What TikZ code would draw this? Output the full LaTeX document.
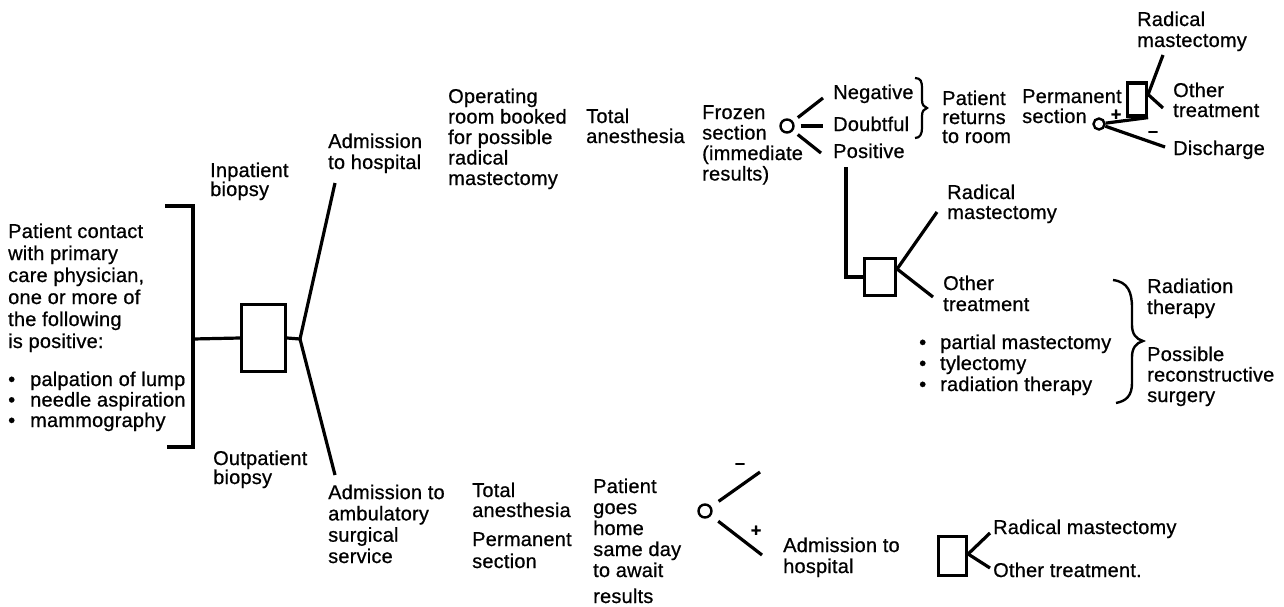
\documentclass[tikz,border=0pt]{standalone}
\usepackage{fontspec}
\setmainfont{Liberation Sans}[FakeBold=0.7,LetterSpace=1.0]
\begin{document}
\begin{tikzpicture}[x=1pt,y=-1pt,
  lbl/.style={anchor=base west,inner sep=0pt,align=left,font=\fontsize{20}{21}\selectfont},
  ln/.style={line width=3.2pt},
  decbox/.style={draw,line width=3.2pt,rectangle,inner sep=0pt},
  chance/.style={draw,line width=2.4pt,circle,inner sep=0pt,minimum size=12pt},
  sign/.style={inner sep=0pt,font=\fontsize{18}{18}\selectfont\bfseries}]
\useasboundingbox (0,0) rectangle (1284,606);
% (multi-line labels are placed by the baseline of their last line)

% ---------- left part ----------
\node[lbl,font=\fontsize{20}{22}\selectfont] (patient) at (8,348)
  {Patient contact\\with primary\\care physician,\\one or more of\\the following\\is positive:};
\node[lbl,font=\fontsize{20}{20.5}\selectfont] (crit) at (8,427)
  {\makebox[22pt][l]{•}palpation of lump\\\makebox[22pt][l]{•}needle aspiration\\\makebox[22pt][l]{•}mammography};
\draw[ln] (165,206) -- (193,206) -- (193,447) -- (167,447);
\coordinate (brk) at (193,339);
\node[decbox,minimum width=44pt,minimum height=67pt] (box1) at (263.5,338) {};
\coordinate (f1) at (300,339);
\coordinate (inEnd) at (335,183);
\coordinate (outEnd) at (335,475);
\draw[ln] (brk) -- (box1.west);
\draw[ln] (box1.east) -- (f1) -- (inEnd);
\draw[ln] (f1) -- (outEnd);
\node[lbl,font=\fontsize{20}{19}\selectfont] (inpat) at (210,196) {Inpatient\\biopsy};
\node[lbl,font=\fontsize{20}{19}\selectfont] (outpat) at (213,484) {Outpatient\\biopsy};

% ---------- inpatient branch ----------
\node[lbl] (admh) at (328,169) {Admission\\to hospital};
\node[lbl,font=\fontsize{20}{20.5}\selectfont] (orbook) at (448,185)
  {Operating\\room booked\\for possible\\radical\\mastectomy};
\node[lbl,font=\fontsize{20}{20}\selectfont] (tanes) at (586,143) {Total\\anesthesia};
\node[lbl,font=\fontsize{20}{20.5}\selectfont] (frozen) at (702,180.5)
  {Frozen\\section\\(immediate\\results)};
\node[chance,minimum size=13pt] (c1) at (787,126) {};
\coordinate (negEnd) at (823,98);
\coordinate (doubEnd) at (823,126);
\coordinate (posEnd) at (821,153);
\draw[ln,shorten <=6pt] (c1) -- (negEnd);
\draw[ln,shorten <=6pt] (c1) -- (doubEnd);
\draw[ln,shorten <=6pt] (c1) -- (posEnd);
\node[lbl] (neg) at (833,99) {Negative};
\node[lbl] (doub) at (833,131) {Doubtful};
\node[lbl] (pos) at (833,158) {Positive};
\draw[line width=2.2pt] (915,78) .. controls (921,78) and (922,82) .. (922,88) -- (922,100)
  .. controls (922,105) and (924,107) .. (927,108)
  .. controls (924,109) and (922,111) .. (922,116) -- (922,128)
  .. controls (922,134) and (920,138) .. (915,138);
\node[lbl,font=\fontsize{20}{19}\selectfont] (ret) at (942,143) {Patient\\returns\\to room};

% permanent section (top right)
\node[lbl,font=\fontsize{20}{20}\selectfont] (perm1) at (1022,123) {Permanent\\section};
\node[chance,minimum size=11pt] (c2) at (1099,124) {};
\node[decbox,minimum width=19pt,minimum height=33pt] (box3) at (1137,99.5) {};
\coordinate (dis) at (1165,147);
\draw[ln] (c2) -- (box3.south east);
\draw[ln] (c2) -- (dis);
\coordinate (f3) at ([yshift=5pt]box3.east);
\coordinate (rm3) at (1163,55);
\coordinate (ot3) at (1163,108);
\draw[ln] (f3) -- (rm3);
\draw[ln] (f3) -- (ot3);
\node[sign] (plus1) at (1116,115) {+};
\node[sign] (minus1) at (1153,134) {–};
\node[lbl] (rad3) at (1137,47) {Radical\\mastectomy};
\node[lbl,font=\fontsize{20}{20}\selectfont] (oth3) at (1173,117) {Other\\treatment};
\node[lbl] (disch) at (1173,155) {Discharge};

% positive branch
\coordinate (posTop) at (846,167);
\node[decbox,minimum width=31pt,minimum height=37pt] (box2) at (880,277) {};
\draw[ln] (posTop) |- (box2.west);
\coordinate (f2) at ([yshift=8pt]box2.east);
\coordinate (rm2) at (937,212);
\coordinate (ot2) at (933,297);
\draw[ln] (f2) -- (rm2);
\draw[ln] (f2) -- (ot2);
\node[lbl,font=\fontsize{20}{20}\selectfont] (rad2) at (947,219) {Radical\\mastectomy};
\node[lbl] (oth2) at (943,311) {Other\\treatment};
\node[lbl,font=\fontsize{20}{21}\selectfont] (opts) at (919,391)
  {\makebox[21pt][l]{•}partial mastectomy\\\makebox[21pt][l]{•}tylectomy\\\makebox[21pt][l]{•}radiation therapy};
\draw[line width=2.4pt] (1113,280) .. controls (1128,282) and (1132,292) .. (1132,308) -- (1132,325)
  .. controls (1132,334) and (1136,339) .. (1143,341)
  .. controls (1136,343) and (1132,348) .. (1132,357) -- (1132,383)
  .. controls (1132,396) and (1126,401) .. (1116,403);
\node[lbl] (radth) at (1147,314) {Radiation\\therapy};
\node[lbl,font=\fontsize{20}{20.5}\selectfont] (recon) at (1147,402) {Possible\\reconstructive\\surgery};

% ---------- outpatient branch ----------
\node[lbl,font=\fontsize{20}{21.3}\selectfont] (amb) at (328,563)
  {Admission to\\ambulatory\\surgical\\service};
\node[lbl,font=\fontsize{20}{20}\selectfont] (tanes2) at (472,517) {Total\\anesthesia};
\node[lbl,font=\fontsize{20}{22}\selectfont] (perm2) at (472,568) {Permanent\\section};
\node[lbl,font=\fontsize{20}{21}\selectfont] (home) at (593,577)
  {Patient\\goes\\home\\same day\\to await};
\node[lbl,font=\fontsize{20}{20}\selectfont] (results) at (593,603) {results};
\node[chance,minimum size=13pt] (c3) at (705,511) {};
\coordinate (mEnd) at (760,472);
\coordinate (pEnd) at (762,555);
\draw[ln,shorten <=9pt] (c3) -- (mEnd);
\draw[ln,shorten <=9pt] (c3) -- (pEnd);
\node[sign] (minus3) at (740,466) {–};
\node[sign] (plus3) at (756,531) {+};
\node[lbl] (admh2) at (783,573) {Admission to\\hospital};
\node[decbox,minimum width=28pt,minimum height=39pt] (box4) at (952.5,556) {};
\coordinate (f4) at ([yshift=2pt]box4.east);
\coordinate (rm4) at (990,533);
\coordinate (ot4) at (990,568);
\draw[ln] (f4) -- (rm4);
\draw[ln] (f4) -- (ot4);
\node[lbl] (rad4) at (993,534) {Radical mastectomy};
\node[lbl] (oth4) at (993,577) {Other treatment.};
\end{tikzpicture}
\end{document}
